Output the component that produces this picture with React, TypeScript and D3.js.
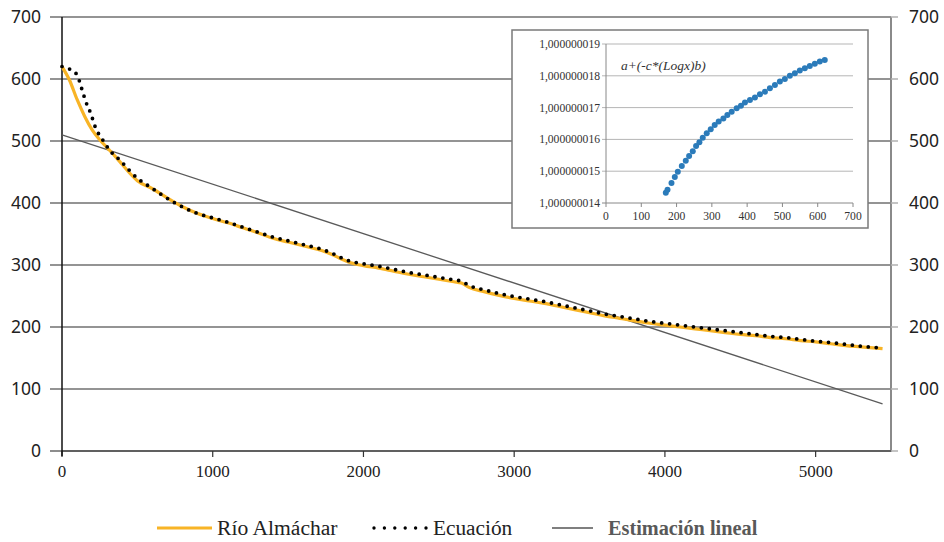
import React, { useEffect, useRef } from "react";
import * as d3 from "d3";

// main chart data
const rioX = [0, 50, 100, 150, 200, 250, 300, 350, 400, 450, 500, 600, 700, 800, 900, 1000, 1100, 1200, 1300, 1400, 1500, 1600, 1700, 1750, 1800, 1850, 1900, 2000, 2100, 2200, 2300, 2400, 2500, 2600, 2650, 2700, 2800, 2900, 3000, 3100, 3200, 3300, 3400, 3500, 3600, 3700, 3800, 3900, 4000, 4100, 4200, 4300, 4400, 4500, 4600, 4700, 4800, 4900, 5000, 5100, 5200, 5300, 5444];
const rioY = [620, 598, 567, 540, 518, 502, 489, 476, 462, 448, 436, 423, 408, 394, 383, 375, 368, 360, 352, 343, 337, 331, 325, 321, 316, 310, 305, 299, 295, 290, 285, 281, 277, 273, 271, 264, 257, 251, 246, 242, 238, 233, 228, 223, 218, 214, 210, 206, 203, 200, 197, 194, 191, 188, 186, 183, 181, 178, 176, 173, 170, 168, 165];

const ecuX = [0, 50, 90, 115, 130, 165, 190, 220, 275, 310, 385, 500, 590, 750, 900, 1000, 1100, 1200, 1300, 1400, 1500, 1600, 1700, 1750, 1800, 1850, 1900, 2000, 2100, 2200, 2300, 2400, 2500, 2600, 2650, 2700, 2800, 2900, 3000, 3100, 3200, 3300, 3400, 3500, 3600, 3700, 3800, 3900, 4000, 4100, 4200, 4300, 4400, 4500, 4600, 4700, 4800, 4900, 5000, 5100, 5200, 5300, 5444];
const ecuY = [620, 616, 610, 597, 585, 559, 545, 523, 500, 487, 469, 440, 425, 400, 383, 376, 369, 361, 353, 345, 339, 333, 327, 323, 318, 312, 307, 302, 298, 293, 288, 284, 280, 276, 274, 267, 260, 254, 249, 245, 241, 236, 231, 226, 221, 217, 213, 209, 206, 203, 200, 197, 194, 191, 188, 185, 183, 180, 177, 175, 172, 169, 166];

const linX = [0, 5444];
const linY = [510, 76];

const mainYTicks = [0, 100, 200, 300, 400, 500, 600, 700];
const mainXTicks = [0, 1000, 2000, 3000, 4000, 5000];

const legendNames = ["Río Almáchar", "Ecuación", "Estimación lineal"];

// inset data
const insetX = [169.5, 174.3, 185.6, 195, 203.5, 214.8, 226.1, 235.5, 245.9, 255.3, 264.7, 274.2, 285.5, 296.8, 308.1, 319.4, 332.6, 343.9, 356.2, 370.3, 382.5, 393.8, 408, 422.1, 436.2, 450.4, 464.5, 478.7, 492.8, 506.9, 521.1, 535.2, 549.3, 563.5, 577.6, 591.8, 605.9, 620];
const insetY = [1.00000001432, 1.00000001442, 1.00000001463, 1.00000001482, 1.00000001498, 1.00000001516, 1.00000001533, 1.00000001548, 1.00000001563, 1.00000001579, 1.00000001591, 1.00000001605, 1.00000001619, 1.00000001632, 1.00000001645, 1.00000001656, 1.00000001666, 1.00000001677, 1.00000001687, 1.00000001698, 1.00000001706, 1.00000001716, 1.00000001724, 1.00000001732, 1.00000001742, 1.0000000175, 1.00000001761, 1.00000001771, 1.00000001782, 1.0000000179, 1.000000018, 1.00000001808, 1.00000001817, 1.00000001824, 1.00000001831, 1.00000001838, 1.00000001845, 1.0000000185];
const insetYTicks = [1.000000014, 1.000000015, 1.000000016, 1.000000017, 1.000000018, 1.000000019];
const insetYLabels = ["1,000000014", "1,000000015", "1,000000016", "1,000000017", "1,000000018", "1,000000019"];
const insetXTicks = [0, 100, 200, 300, 400, 500, 600, 700];

export default function App() {
    const svgRef = useRef<SVGSVGElement>(null);

    useEffect(() => {
        const svg = d3.select(svgRef.current);
        svg.selectAll("*").remove();

        const orange = "#F8B426";
        const serif = "'Liberation Serif', 'Times New Roman', serif";
        const sans = "'Noto Sans', sans-serif";

        const x = d3.scaleLinear().domain([0, 5500]).range([62, 891]);
        const y = d3.scaleLinear().domain([0, 700]).range([451, 17]);

        // gridlines
        svg.append("g").selectAll("line").data(mainYTicks.filter(d => d > 0)).enter()
            .append("line")
            .attr("x1", 50).attr("x2", 891)
            .attr("y1", d => y(d)).attr("y2", d => y(d))
            .style("stroke", "#707070").style("stroke-width", 1.6);

        // left tick for 0
        svg.append("line").attr("x1", 50).attr("x2", 62).attr("y1", y(0)).attr("y2", y(0))
            .style("stroke", "#707070").style("stroke-width", 1.6);

        // right axis + ticks
        svg.append("line").attr("x1", 891).attr("x2", 891).attr("y1", y(700)).attr("y2", y(0) + 1)
            .style("stroke", "#8a8a8a").style("stroke-width", 2);
        svg.append("g").selectAll("line").data(mainYTicks).enter()
            .append("line")
            .attr("x1", 891).attr("x2", 898)
            .attr("y1", d => y(d)).attr("y2", d => y(d))
            .style("stroke", "#b0b0b0").style("stroke-width", 1.5);

        // bottom axis
        svg.append("line").attr("x1", 62).attr("x2", 891).attr("y1", y(0)).attr("y2", y(0))
            .style("stroke", "#606060").style("stroke-width", 2.2);
        svg.append("g").selectAll("line").data(mainXTicks).enter()
            .append("line")
            .attr("x1", d => x(d)).attr("x2", d => x(d))
            .attr("y1", y(0)).attr("y2", y(0) + 6)
            .style("stroke", "#333").style("stroke-width", 1.2);

        // left axis
        svg.append("line").attr("x1", 62).attr("x2", 62).attr("y1", y(700)).attr("y2", y(0) + 5)
            .style("stroke", "#111").style("stroke-width", 1.5);

        // axis labels
        svg.append("g").selectAll("text").data(mainYTicks).enter()
            .append("text")
            .attr("x", 41).attr("y", d => y(d)).attr("dy", "0.36em")
            .attr("text-anchor", "end")
            .style("font-family", sans).style("font-size", "17.5px").style("fill", "#222")
            .text(d => d);
        svg.append("g").selectAll("text").data(mainYTicks).enter()
            .append("text")
            .attr("x", 909).attr("y", d => y(d)).attr("dy", "0.36em")
            .style("font-family", sans).style("font-size", "17.5px").style("fill", "#222")
            .text(d => d);
        svg.append("g").selectAll("text").data(mainXTicks).enter()
            .append("text")
            .attr("x", d => x(d)).attr("y", 477)
            .attr("text-anchor", "middle")
            .style("font-family", serif).style("font-size", "17px").style("fill", "#222")
            .text(d => d);

        // series
        const line = d3.line<[number, number]>().x(d => x(d[0])).y(d => y(d[1]));

        svg.append("path")
            .attr("d", line(linX.map((v, i) => [v, linY[i]])))
            .style("fill", "none").style("stroke", "#5a5a5a").style("stroke-width", 1.3);

        svg.append("path")
            .attr("d", line.curve(d3.curveMonotoneX)(rioX.map((v, i) => [v, rioY[i]])))
            .style("fill", "none").style("stroke", orange).style("stroke-width", 3.2)
            .style("stroke-linejoin", "round");

        svg.append("path")
            .attr("d", line.curve(d3.curveMonotoneX)(ecuX.map((v, i) => [v, ecuY[i]])))
            .style("fill", "none").style("stroke", "#000").style("stroke-width", 3.8)
            .style("stroke-dasharray", "0 8").style("stroke-linecap", "round");

        // legend
        const lg = svg.append("g");
        lg.append("line").attr("x1", 157).attr("x2", 212).attr("y1", 528).attr("y2", 528)
            .style("stroke", orange).style("stroke-width", 3);
        lg.append("line").attr("x1", 374).attr("x2", 426).attr("y1", 528).attr("y2", 528)
            .style("stroke", "#000").style("stroke-width", 3.4)
            .style("stroke-dasharray", "0 10.4").style("stroke-linecap", "round");
        lg.append("line").attr("x1", 552).attr("x2", 593).attr("y1", 528).attr("y2", 528)
            .style("stroke", "#555").style("stroke-width", 1.3);
        lg.append("text").attr("x", 217).attr("y", 535)
            .style("font-family", serif).style("font-size", "21.6px").style("fill", "#222")
            .text(legendNames[0]);
        lg.append("text").attr("x", 433).attr("y", 535)
            .style("font-family", serif).style("font-size", "21.3px").style("fill", "#222")
            .text(legendNames[1]);
        lg.append("text").attr("x", 608).attr("y", 535)
            .style("font-family", serif).style("font-size", "20.3px").style("font-weight", "bold").style("fill", "#595959")
            .text(legendNames[2]);

        // inset
        const ig = svg.append("g");
        ig.append("rect").attr("x", 512).attr("y", 30).attr("width", 356).attr("height", 198)
            .style("fill", "#fff").style("stroke", "#7a7a7a").style("stroke-width", 1.5);

        const ix = d3.scaleLinear().domain([0, 700]).range([606, 853]);
        const iy = d3.scaleLinear().domain([1.000000014, 1.000000019]).range([203, 44]);

        ig.append("g").selectAll("line").data(insetYTicks).enter()
            .append("line")
            .attr("x1", 602).attr("x2", 853)
            .attr("y1", d => iy(d)).attr("y2", d => iy(d))
            .style("stroke", (d, i) => i === 0 ? "#888" : "#b5b5b5").style("stroke-width", 1);
        ig.append("line").attr("x1", 606).attr("x2", 606).attr("y1", 44).attr("y2", 203)
            .style("stroke", "#888").style("stroke-width", 1);
        ig.append("g").selectAll("line").data(insetXTicks).enter()
            .append("line")
            .attr("x1", d => ix(d)).attr("x2", d => ix(d))
            .attr("y1", 203).attr("y2", 207)
            .style("stroke", "#888").style("stroke-width", 1);

        ig.append("g").selectAll("text").data(insetYTicks).enter()
            .append("text")
            .attr("x", 600).attr("y", d => iy(d)).attr("dy", "0.35em")
            .attr("text-anchor", "end")
            .style("font-family", serif).style("font-size", "11.6px").style("fill", "#333")
            .text((d, i) => insetYLabels[i]);
        ig.append("g").selectAll("text").data(insetXTicks).enter()
            .append("text")
            .attr("x", d => ix(d)).attr("y", 220)
            .attr("text-anchor", "middle")
            .style("font-family", serif).style("font-size", "11.6px").style("fill", "#333")
            .text(d => d);

        ig.append("text").attr("x", 621).attr("y", 70)
            .style("font-family", serif).style("font-size", "13.5px").style("font-style", "italic").style("fill", "#333")
            .text("a+(-c*(Logx)b)");

        ig.append("g").selectAll("circle").data(insetX).enter()
            .append("circle")
            .attr("cx", d => ix(d)).attr("cy", (d, i) => iy(insetY[i]))
            .attr("r", 3)
            .style("fill", "#2b7bba");
    }, []);

    return (
        <svg ref={svgRef} width={944} height={542}
            style={{ position: "absolute", left: 0, top: 0, background: "#fff" }} />
    );
}
